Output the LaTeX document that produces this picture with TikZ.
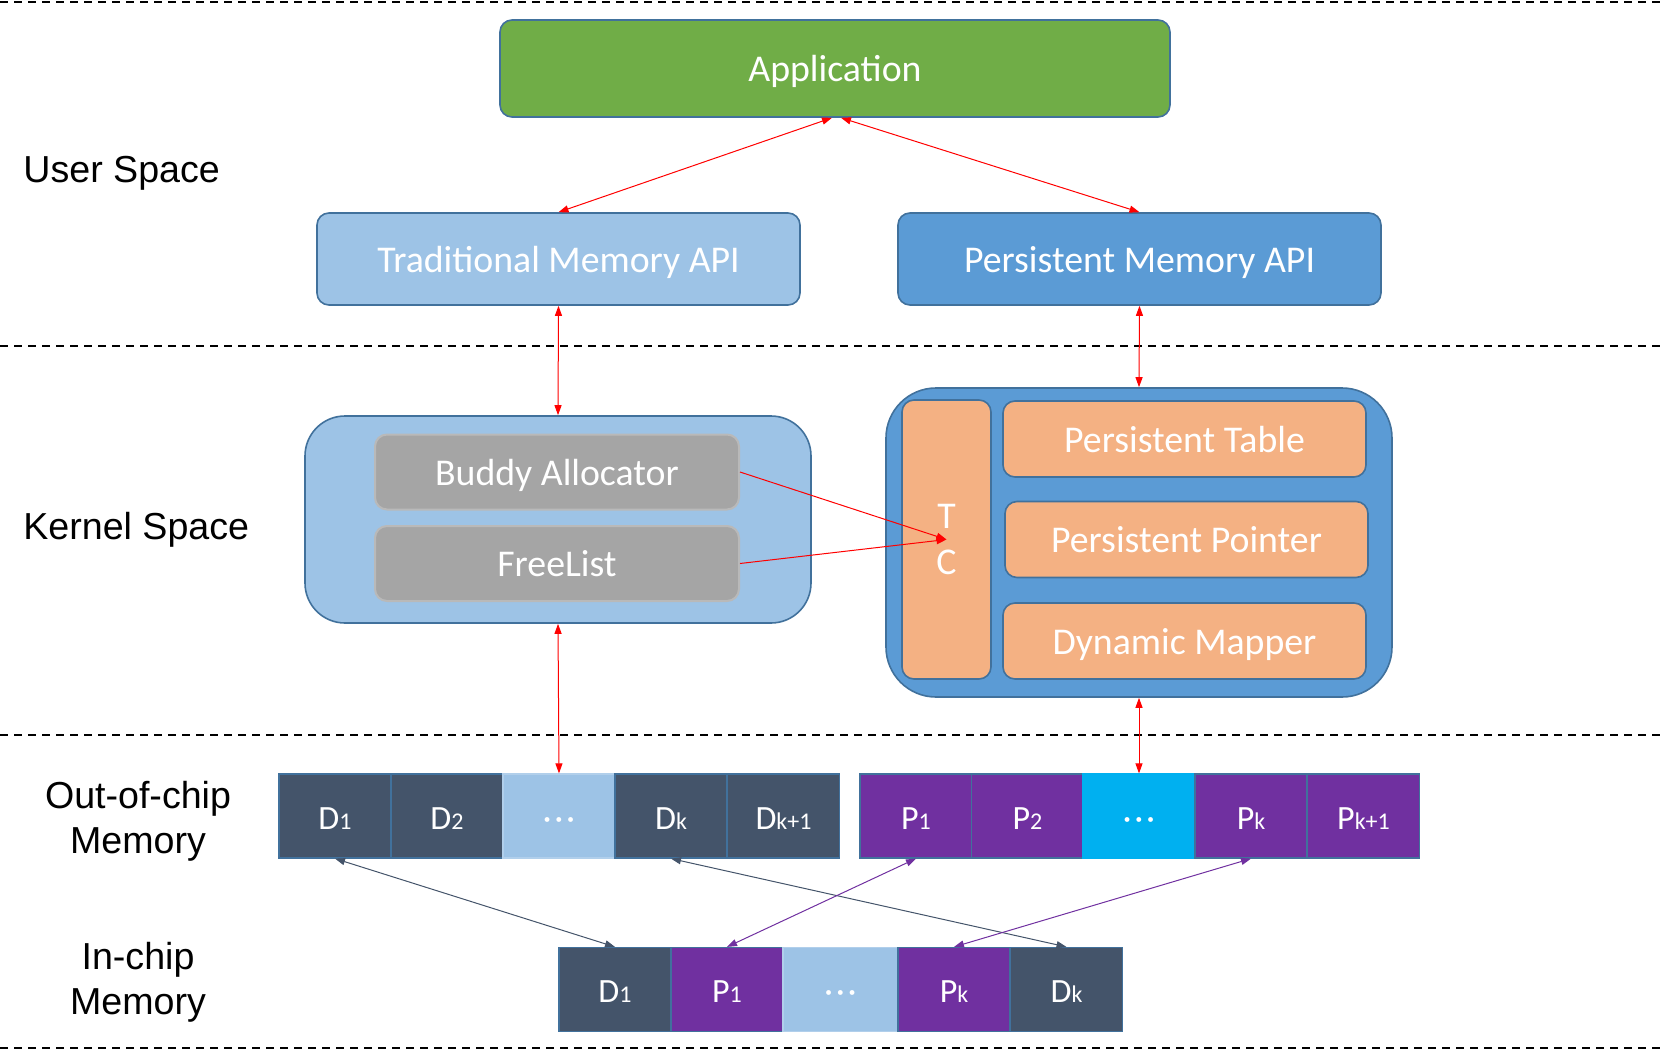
\documentclass[tikz,border=0pt]{standalone}
\usepackage{fontspec}
\setmainfont{Carlito}
\newfontfamily\arialf{Liberation Sans}
\usetikzlibrary{arrows.meta,calc}
\definecolor{bordblue}{HTML}{41719C}
\definecolor{appgreen}{HTML}{70AD47}
\definecolor{lightblue}{HTML}{9DC3E6}
\definecolor{midblue}{HTML}{5B9BD5}
\definecolor{orangebox}{HTML}{F4B183}
\definecolor{graybox}{HTML}{A5A5A5}
\definecolor{grayedge}{HTML}{B9B9B9}
\definecolor{slate}{HTML}{44546A}
\definecolor{purp}{HTML}{7030A0}
\definecolor{cyanbox}{HTML}{00B0F0}
\newcommand\sbs[1]{{\fontsize{12}{12}\selectfont #1}}
\newcommand\cdts{{\fontsize{17}{17}\selectfont ·\hspace{1.6pt}·\hspace{1.6pt}·}}
\begin{document}
\begin{tikzpicture}[x=0.5pt,y=-0.5pt,
  sep/.style={black, line width=1pt, dash pattern=on 4pt off 3pt},
  boxtext/.style={text=white, font=\fontsize{18.9}{23}\selectfont, inner sep=0pt, text height=17.5pt, text depth=4.1pt},
  appbox/.style={boxtext, draw=bordblue, line width=0.8pt, rounded corners=6pt},
  bigbox/.style={draw=bordblue, line width=0.8pt},
  graystep/.style={boxtext, fill=graybox, draw=grayedge, line width=1pt, rounded corners=6pt, minimum width=182pt, minimum height=37.5pt},
  orangestep/.style={boxtext, fill=orangebox, draw=bordblue, line width=0.8pt, rounded corners=6pt, minimum width=181.5pt, minimum height=38pt},
  cell/.style={draw=bordblue, line width=0.6pt, minimum width=56pt, minimum height=42pt, inner sep=0pt, text=white, font=\fontsize{17}{17}\selectfont, text height=13pt, text depth=0pt},
  dcell/.style={cell, fill=slate},
  pcell/.style={cell, fill=purp},
  lcell/.style={cell, fill=lightblue, draw=lightblue!80!white},
  ccell/.style={cell, fill=cyanbox, draw=cyanbox},
  lab/.style={font=\arialf\fontsize{18.8}{22.5}\selectfont, text=black, inner sep=0pt},
  redarr/.style={red, line width=0.5pt, {Triangle[length=5pt,width=3.5pt]}-{Triangle[length=5pt,width=3.5pt]}},
  redone/.style={red, line width=0.5pt, -{Triangle[length=5pt,width=3.5pt]}},
  slatearr/.style={slate, line width=0.5pt, {Triangle[length=5pt,width=3.5pt]}-{Triangle[length=5pt,width=3.5pt]}},
  purparr/.style={purp, line width=0.5pt, {Triangle[length=5pt,width=3.5pt]}-{Triangle[length=5pt,width=3.5pt]}}
]
\useasboundingbox (0,0) rectangle (1662,1050);

% separators
\draw[sep] (0,2) -- (1662,2);
\draw[sep] (0,346) -- (1662,346);
\draw[sep] (0,735) -- (1662,735);
\draw[sep] (0,1048) -- (1662,1048);

% labels
\node[lab, anchor=west] (lus) at (23,173) {User Space};
\node[lab, anchor=west] (lks) at (23,530) {Kernel Space};
\node[lab, align=center] (loc) at (138,821.5) {Out-of-chip\\Memory};
\node[lab, align=center] (lic) at (138,982.5) {In-chip\\Memory};

% user space
\node[appbox, fill=appgreen, minimum width=335pt, minimum height=48.5pt] (app) at (835,68.5) {Application};
\node[appbox, fill=lightblue, minimum width=241.5pt, minimum height=46pt] (tapi) at (558.5,259) {Traditional Memory API};
\node[appbox, fill=midblue, minimum width=241.5pt, minimum height=46pt] (papi) at (1139.5,259) {Persistent Memory API};

% kernel left
\node[bigbox, fill=lightblue, rounded corners=20pt, minimum width=253pt, minimum height=103.5pt] (lk) at (558,519.5) {};
\node[graystep] (buddy) at (557,472) {Buddy Allocator};
\node[graystep] (free) at (557,563.5) {FreeList};

% kernel right
\node[bigbox, fill=midblue, rounded corners=25pt, minimum width=253pt, minimum height=154.5pt] (rk) at (1139,542.5) {};
\node[text=white, font=\fontsize{18.9}{23}\selectfont, inner sep=0pt, fill=orangebox, draw=bordblue, line width=0.8pt, rounded corners=6pt, minimum width=44.5pt, minimum height=139.5pt, align=center] (tc) at (946.5,539.5) {T\\C};
\node[orangestep] (ptab) at (1184.5,439) {Persistent Table};
\node[orangestep] (pptr) at (1186.5,539.5) {Persistent Pointer};
\node[orangestep] (dmap) at (1184.5,641) {Dynamic Mapper};

% out-of-chip memory
\node[dcell] (od1) at (335,816) {D\sbs{1}};
\node[dcell] (od2) at (447,816) {D\sbs{2}};
\node[lcell] (odd) at (559,816) {\cdts};
\node[dcell] (odk) at (671,816) {D\sbs{k}};
\node[dcell] (odk1) at (783.5,816) {D\sbs{k+1}};
\node[pcell] (op1) at (916,816) {P\sbs{1}};
\node[pcell] (op2) at (1027.5,816) {P\sbs{2}};
\node[ccell] (opd) at (1139,816) {\cdts};
\node[pcell] (opk) at (1251,816) {P\sbs{k}};
\node[pcell] (opk1) at (1363.5,816) {P\sbs{k+1}};

% in-chip memory
\node[dcell] (id1) at (615,989.5) {D\sbs{1}};
\node[pcell] (ip1) at (727,989.5) {P\sbs{1}};
\node[lcell, minimum width=57.5pt] (idd) at (840.5,989.5) {\cdts};
\node[pcell] (ipk) at (954,989.5) {P\sbs{k}};
\node[dcell] (idk) at (1066.5,989.5) {D\sbs{k}};

% connectors
\draw[redarr] ([xshift=-1.5pt]app.south) -- (tapi.north);
\draw[redarr] ([xshift=3pt]app.south) -- (papi.north);
\draw[redarr] (tapi.south) -- (lk.north);
\draw[redarr] (papi.south) -- (rk.north);
\draw[redone] (buddy.east) -- (tc.center);
\draw[redone] (free.east) -- (tc.center);
\draw[redarr] (lk.south) -- (odd.north);
\draw[redarr] (rk.south) -- (opd.north);

\draw[slatearr] (od1.south) -- (id1.north);
\draw[slatearr] (odk.south) -- (idk.north);
\draw[purparr] (op1.south) -- (ip1.north);
\draw[purparr] (opk.south) -- (ipk.north);
\end{tikzpicture}
\end{document}
